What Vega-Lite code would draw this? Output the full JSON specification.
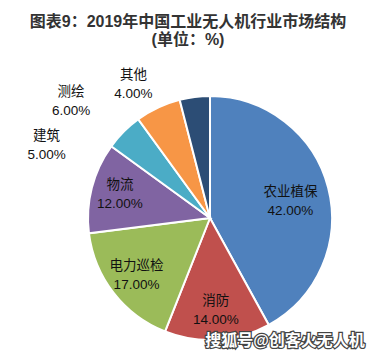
{
  "$schema": "https://vega.github.io/schema/vega-lite/v6.json",
  "width": 332,
  "height": 276,
  "autosize": {"type": "none"},
  "padding": {"left": 44, "top": 80, "right": 0, "bottom": 0},
  "background": "white",
  "config": {"view": {"stroke": null}, "font": "Liberation Sans, Noto Sans CJK SC"},
  "title": {
    "text": ["图表9：2019年中国工业无人机行业市场结构", "(单位：%)"],
    "font": "Liberation Sans, Noto Sans CJK SC",
    "fontSize": 16,
    "fontWeight": "bold",
    "color": "#333333",
    "lineHeight": 18,
    "anchor": "middle",
    "dx": -22,
    "offset": 20
  },
  "data": {
    "values": [
      {"category": "农业植保", "share": 0.42, "rank": 1},
      {"category": "消防", "share": 0.14, "rank": 2},
      {"category": "电力巡检", "share": 0.17, "rank": 3},
      {"category": "物流", "share": 0.12, "rank": 4},
      {"category": "建筑", "share": 0.05, "rank": 5},
      {"category": "测绘", "share": 0.06, "rank": 6},
      {"category": "其他", "share": 0.04, "rank": 7}
    ]
  },
  "layer": [
    {
      "encoding": {
        "theta": {"field": "share", "type": "quantitative", "stack": true},
        "order": {"field": "rank", "type": "quantitative"},
        "detail": {"field": "category", "type": "nominal"}
      },
      "layer": [
        {
          "mark": {"type": "arc", "outerRadius": 122, "stroke": "white", "strokeWidth": 2},
          "encoding": {
            "color": {
              "field": "category",
              "type": "nominal",
              "scale": {
                "domain": ["农业植保", "消防", "电力巡检", "物流", "建筑", "测绘", "其他"],
                "range": ["#4F81BD", "#C0504D", "#9BBB59", "#8064A2", "#4BACC6", "#F79646", "#2C4D75"]
              },
              "legend": null
            }
          }
        },
        {
          "mark": {"type": "text", "radius": 83, "dy": -5.5, "fontSize": 13.5, "color": "#111111", "baseline": "middle"},
          "encoding": {"text": {"condition": {"test": "datum.category !== '农业植保'", "value": ""}, "field": "category", "type": "nominal"}}
        },
        {
          "mark": {"type": "text", "radius": 83, "dy": 13.5, "fontSize": 13.5, "color": "#111111", "baseline": "middle"},
          "encoding": {"text": {"condition": {"test": "datum.category !== '农业植保'", "value": ""}, "field": "share", "type": "quantitative", "format": ".2%"}}
        },
        {
          "mark": {"type": "text", "radius": 93, "dy": -9.5, "fontSize": 13.5, "color": "#111111", "baseline": "middle"},
          "encoding": {"text": {"condition": {"test": "indexof(['消防','电力巡检','物流'], datum.category) < 0", "value": ""}, "field": "category", "type": "nominal"}}
        },
        {
          "mark": {"type": "text", "radius": 93, "dy": 9.5, "fontSize": 13.5, "color": "#111111", "baseline": "middle"},
          "encoding": {"text": {"condition": {"test": "indexof(['消防','电力巡检','物流'], datum.category) < 0", "value": ""}, "field": "share", "type": "quantitative", "format": ".2%"}}
        },
        {
          "mark": {"type": "text", "radius": 150, "dx": -57.4, "dy": 24.1, "fontSize": 13.5, "color": "#111111", "baseline": "middle"},
          "encoding": {"text": {"condition": {"test": "datum.category !== '建筑'", "value": ""}, "field": "category", "type": "nominal"}}
        },
        {
          "mark": {"type": "text", "radius": 150, "dx": -57.4, "dy": 43.1, "fontSize": 13.5, "color": "#111111", "baseline": "middle"},
          "encoding": {"text": {"condition": {"test": "datum.category !== '建筑'", "value": ""}, "field": "share", "type": "quantitative", "format": ".2%"}}
        },
        {
          "mark": {"type": "text", "radius": 150, "dx": -75.1, "dy": 9.3, "fontSize": 13.5, "color": "#111111", "baseline": "middle"},
          "encoding": {"text": {"condition": {"test": "datum.category !== '测绘'", "value": ""}, "field": "category", "type": "nominal"}}
        },
        {
          "mark": {"type": "text", "radius": 150, "dx": -75.1, "dy": 28.3, "fontSize": 13.5, "color": "#111111", "baseline": "middle"},
          "encoding": {"text": {"condition": {"test": "datum.category !== '测绘'", "value": ""}, "field": "share", "type": "quantitative", "format": ".2%"}}
        },
        {
          "mark": {"type": "text", "radius": 150, "dx": -57.8, "dy": 5.8, "fontSize": 13.5, "color": "#111111", "baseline": "middle"},
          "encoding": {"text": {"condition": {"test": "datum.category !== '其他'", "value": ""}, "field": "category", "type": "nominal"}}
        },
        {
          "mark": {"type": "text", "radius": 150, "dx": -57.8, "dy": 24.8, "fontSize": 13.5, "color": "#111111", "baseline": "middle"},
          "encoding": {"text": {"condition": {"test": "datum.category !== '其他'", "value": ""}, "field": "share", "type": "quantitative", "format": ".2%"}}
        }
      ]
    },
    {
      "data": {"values": [{"note": "搜狐号@创客火无人机"}]},
      "mark": {"type": "text", "dx": 75, "dy": 123, "fontSize": 16, "fontWeight": "bold", "fill": "#444444", "stroke": "#444444", "strokeWidth": 2.5, "baseline": "middle"},
      "encoding": {"text": {"field": "note", "type": "nominal"}}
    },
    {
      "data": {"values": [{"note": "搜狐号@创客火无人机"}]},
      "mark": {"type": "text", "dx": 75, "dy": 123, "fontSize": 16, "fontWeight": "bold", "fill": "white", "baseline": "middle"},
      "encoding": {"text": {"field": "note", "type": "nominal"}}
    }
  ]
}
